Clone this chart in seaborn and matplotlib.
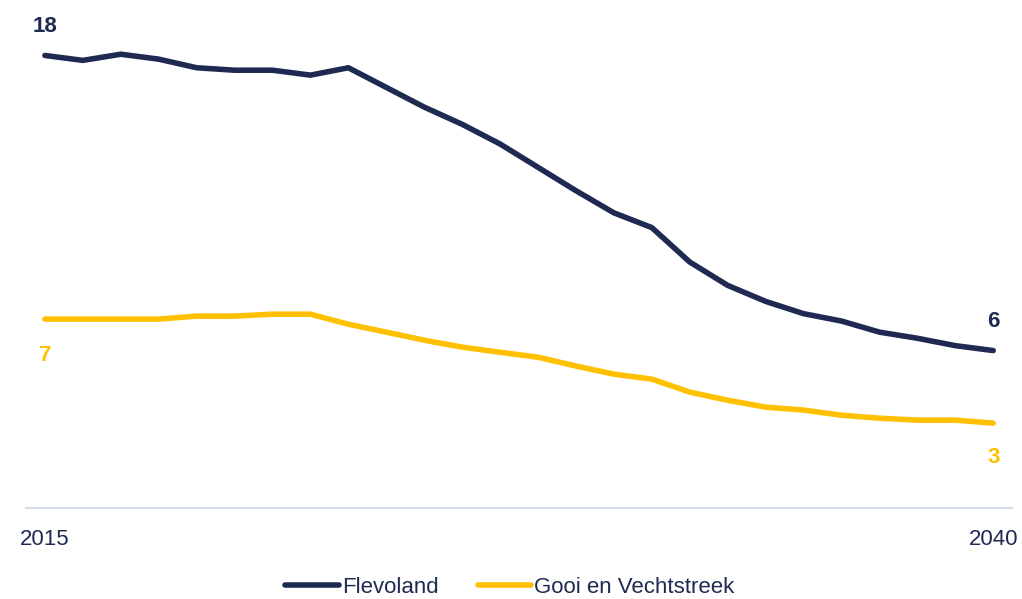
import matplotlib
matplotlib.use("Agg")
import matplotlib.pyplot as plt
import seaborn as sns
import pandas as pd

years = list(range(2015, 2041))
flevoland = [18.0, 17.8, 18.05, 17.85, 17.5, 17.4, 17.4, 17.2, 17.5, 16.7,
             15.9, 15.2, 14.4, 13.45, 12.5, 11.6, 11.0, 9.6, 8.65, 8.0,
             7.5, 7.2, 6.75, 6.5, 6.2, 6.0]
gooi = [7.28, 7.28, 7.28, 7.28, 7.4, 7.4, 7.48, 7.48, 7.07, 6.75,
        6.42, 6.14, 5.93, 5.73, 5.37, 5.04, 4.84, 4.31, 3.98, 3.7,
        3.58, 3.37, 3.25, 3.17, 3.17, 3.05]
series_names = ["Flevoland", "Gooi en Vechtstreek"]

NAVY = "#1F2A52"
YELLOW = "#FFC000"
AXIS = "#D6DEEE"

df = pd.DataFrame({
    "jaar": years * 2,
    "waarde": flevoland + gooi,
    "regio": [series_names[0]] * len(years) + [series_names[1]] * len(years),
})

sns.set_style("white")
plt.rcParams["font.family"] = ["Liberation Sans", "DejaVu Sans"]

fig = plt.figure(figsize=(10.22, 5.99), dpi=100)
ax = fig.add_axes([0.0254, 0.152, 0.965, 0.817])

sns.lineplot(data=df, x="jaar", y="waarde", hue="regio",
             palette=[NAVY, YELLOW], linewidth=4, ax=ax, legend=False,
             solid_capstyle="round")

ax.set_xlim(2014.5, 2040.5)
ax.set_ylim(-0.4, 19.5)
ax.set_xticks([years[0], years[-1]])
ax.set_xticklabels([str(years[0]), str(years[-1])])
ax.set_yticks([])
ax.set_xlabel("")
ax.set_ylabel("")
ax.tick_params(axis="x", length=0, pad=15, labelsize=16, labelcolor=NAVY)

for side in ["top", "left", "right"]:
    ax.spines[side].set_visible(False)
ax.spines["bottom"].set_color(AXIS)
ax.spines["bottom"].set_linewidth(1.5)

# labels at first and last point
label_style = dict(textcoords="offset points", ha="center", va="center",
                   fontsize=16, fontweight="bold")
ax.annotate(f"{round(flevoland[0])}", (years[0], flevoland[0]),
            xytext=(0, 21), color=NAVY, **label_style)
ax.annotate(f"{round(flevoland[-1])}", (years[-1], flevoland[-1]),
            xytext=(0, 21), color=NAVY, **label_style)
ax.annotate(f"{round(gooi[0])}", (years[0], gooi[0]),
            xytext=(0, -26), color=YELLOW, **label_style)
ax.annotate(f"{round(gooi[-1])}", (years[-1], gooi[-1]),
            xytext=(0, -25), color=YELLOW, **label_style)

handles = [plt.Line2D([], [], color=c, linewidth=4, solid_capstyle="round")
           for c in [NAVY, YELLOW]]
leg = fig.legend(handles, series_names, loc="center", bbox_to_anchor=(0.499, 0.02),
                 ncol=2, frameon=False, fontsize=16, handlelength=2.4,
                 handletextpad=0.15, columnspacing=1.75)
for t in leg.get_texts():
    t.set_color(NAVY)

fig.savefig("out.png", dpi=100)
